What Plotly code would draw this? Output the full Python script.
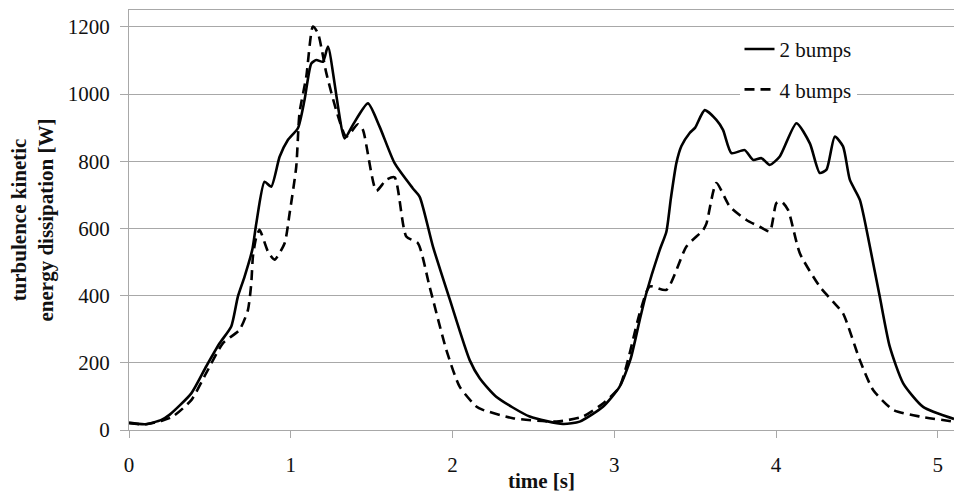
import plotly.graph_objects as go

# time [s] and value [W] for "2 bumps"
t_2 = [0.0, 0.1, 0.2, 0.25, 0.385, 0.477, 0.56, 0.632, 0.673, 0.714, 0.762, 0.787, 0.838, 0.879,
       0.931, 0.982, 1.044, 1.085, 1.127, 1.158, 1.199, 1.23, 1.333, 1.384, 1.477, 1.549, 1.642,
       1.755, 1.797, 1.879, 1.982, 2.106, 2.168, 2.27, 2.477, 2.683, 2.786, 2.93, 3.033, 3.1,
       3.157, 3.198, 3.281, 3.322, 3.35, 3.384, 3.415, 3.466, 3.5, 3.559, 3.631, 3.672, 3.724, 3.806,
       3.858, 3.91, 3.961, 4.023, 4.126, 4.209, 4.27, 4.312, 4.363, 4.414, 4.456, 4.518, 4.58,
       4.641, 4.703, 4.786, 4.909, 5.1]
v_2 = [22, 17, 30, 45, 109, 189, 258, 308, 397, 456, 536, 615, 739, 724,
       813, 863, 898, 982, 1091, 1101, 1096, 1141, 868, 908, 972, 903, 794,
       719, 694, 546, 390, 208, 154, 99, 40, 18, 25, 69, 129, 210,
       327, 407, 536, 590, 690, 795, 845, 884, 900, 952, 923, 893, 824, 833,
       804, 809, 789, 814, 913, 853, 765, 775, 873, 844, 745, 685, 546,
       397, 248, 139, 69, 33]

# time [s] and value [W] for "4 bumps"
t_4 = [0.0, 0.1, 0.2, 0.271, 0.385, 0.477, 0.58, 0.683, 0.735, 0.756, 0.766, 0.785, 0.807, 0.86,
       0.9, 0.962, 0.993, 1.034, 1.054, 1.096, 1.137, 1.168, 1.22, 1.281, 1.343, 1.415, 1.446,
       1.529, 1.591, 1.642, 1.714, 1.786, 1.858, 1.962, 2.044, 2.147, 2.188, 2.373, 2.642, 2.806,
       2.93, 3.033, 3.157, 3.219, 3.322, 3.446, 3.549, 3.57, 3.631, 3.714, 3.817, 3.899, 3.961,
       4.002, 4.033, 4.074, 4.147, 4.27, 4.352, 4.414, 4.518, 4.6, 4.724, 4.889, 5.1]
v_4 = [20, 17, 27, 40, 89, 169, 258, 298, 357, 437, 516, 570, 596, 530,
       507, 556, 645, 784, 943, 1052, 1201, 1181, 1062, 952, 873, 910, 893,
       712, 745, 752, 576, 556, 427, 238, 129, 70, 60, 35, 25, 40,
       79, 129, 347, 427, 417, 546, 595, 615, 735, 665, 625, 605, 591,
       675, 680, 655, 526, 427, 382, 347, 208, 119, 60, 40, 25]

x_ticks = [0, 1, 2, 3, 4, 5]
y_ticks = [0, 200, 400, 600, 800, 1000, 1200]

FONT = "Liberation Serif"
GRID = "#a8a8a8"
FS = 21

fig = go.Figure()
fig.add_trace(go.Scatter(x=t_2, y=v_2, mode="lines", name="2 bumps", legendgroup="a",
                         line=dict(color="black", width=2.6, shape="spline", smoothing=0.6)))
fig.add_trace(go.Scatter(x=t_4, y=v_4, mode="lines", name="4 bumps", legendgroup="b",
                         line=dict(color="black", width=2.6, dash="10px,6px", shape="spline", smoothing=0.6)))

fig.update_layout(
    width=954, height=493,
    margin=dict(l=129, r=0, t=10, b=63),
    paper_bgcolor="white", plot_bgcolor="white",
    font=dict(family=FONT, size=FS, color="#111111"),
    showlegend=True,
    legend=dict(x=0.74, y=0.955, xanchor="left", yanchor="top",
                bgcolor="white", borderwidth=0, tracegroupgap=10,
                font=dict(family=FONT, size=FS, color="#111111"),
                itemwidth=30),
    xaxis=dict(range=[0, 5.1], tickvals=x_ticks, ticktext=[str(v) for v in x_ticks],
               showgrid=False, zeroline=False, showline=True, linecolor=GRID, linewidth=1,
               mirror=True, ticks="outside", ticklen=7, tickcolor=GRID,
               ticklabelstandoff=9, tickfont=dict(family=FONT, size=FS),
               title=dict(text="<b>time [s]</b>", font=dict(family=FONT, size=FS), standoff=2)),
    yaxis=dict(range=[0, 1250], tickvals=y_ticks, ticktext=[str(v) for v in y_ticks],
               showgrid=True, gridcolor=GRID, gridwidth=1, zeroline=False,
               showline=True, linecolor=GRID, linewidth=1,
               ticks="outside", ticklen=8, tickcolor=GRID, ticklabelstandoff=6,
               tickfont=dict(family=FONT, size=FS),
               title=dict(text="<b>turbulence kinetic<br>energy dissipation [W]</b>",
                          font=dict(family=FONT, size=FS), standoff=8)),
)

fig.write_html("out.html")
